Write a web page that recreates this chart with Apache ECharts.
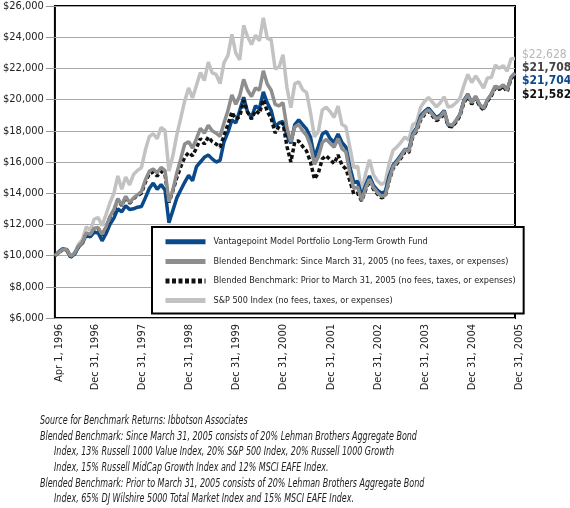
<!DOCTYPE html>
<html><head><meta charset="utf-8">
<script src="https://cdn.jsdelivr.net/npm/echarts@6/dist/echarts.min.js"></script>
<style>html,body{margin:0;padding:0;background:#fff}#c{width:570px;height:508px}</style>
</head><body><div id="c"></div>
<script>
const FONT = '"Liberation Sans Narrow","DejaVu Sans Condensed","Roboto Condensed",sans-serif';

// Monthly points: start value (Apr 1, 1996) then month-ends Apr 1996 .. Dec 2005
const seriesNames = [
  'Vantagepoint Model Portfolio Long-Term Growth Fund',
  'Blended Benchmark: Since March 31, 2005 (no fees, taxes, or expenses)',
  'Blended Benchmark: Prior to March 31, 2005 (no fees, taxes, or expenses)',
  'S&P 500 Index (no fees, taxes, or expenses)'
];

const fundValues = [
  10000,10250,10450,10350,9900,10100,10550,10800,11350,11200,
  11500,11450,10950,11400,12000,12400,13000,12800,13200,12950,13000,13100,
  13150,13700,14300,14650,14250,14550,14200,12100,12900,13700,14200,14700,
  15150,14800,15700,16000,16300,16450,16200,16000,16100,17300,17900,18700,
  18500,19300,20150,19200,18850,19600,19400,20500,19800,19300,18300,18500,
  18600,17700,17200,18400,18700,18400,18100,17600,16300,17000,17800,17950,
  17500,17250,17800,17250,16950,15700,14700,14750,13800,14500,15100,14500,
  14200,14000,14100,15100,15800,16100,16450,16800,16800,17800,18200,18950,
  19250,19450,19150,18850,19000,19300,18350,18300,18650,19050,19950,20350,
  19800,20200,19650,19400,19950,20350,20850,20700,20900,20650,21400,21704
];

const blendedSinceValues = [
  10000,10200,10400,10380,9950,10150,10600,10850,11450,11350,
  11750,11800,11350,11850,12500,12950,13650,13250,13800,13400,13700,13900,
  14100,14850,15400,15550,15300,15650,15450,13450,14200,15300,16200,17150,
  17300,16900,17500,18150,17850,18350,18000,17850,17650,18500,19300,20300,
  19700,20250,21300,20600,20200,20750,20600,21850,21000,20600,19700,19600,
  19800,18200,17300,18250,18400,18000,17700,17050,15850,16350,17250,17450,
  17200,16950,17500,16850,16650,15300,14300,14400,13550,14300,14900,14350,
  14050,13800,13850,14850,15700,16000,16350,16800,16700,17700,18100,18800,
  19150,19350,19050,18750,18900,19250,18400,18350,18650,19050,19900,20300,
  19800,20200,19700,19450,20000,20350,20850,20750,20950,20600,21450,21708
];

const blendedPriorValues = [
  10000,10200,10380,10370,9920,10120,10580,10820,11420,11330,
  11700,11750,11300,11800,12450,12900,13600,13200,13750,13350,13650,13850,
  14000,14700,15250,15350,15100,15400,15200,13400,14150,15000,15700,16300,
  16600,16400,16900,17500,17150,17600,17300,17150,16950,17700,18400,19200,
  18750,18900,19950,19200,18750,19300,19100,20000,19250,18800,17850,18300,
  18500,17000,16000,17300,17350,17000,16700,16000,14900,15300,16200,16400,
  16150,15900,16450,15800,15550,14800,13950,14000,13500,14200,14800,14250,
  13950,13700,13800,14800,15600,15900,16250,16650,16600,17600,18000,18700,
  19050,19250,18950,18650,18800,19150,18300,18250,18550,18950,19800,20200,
  19700,20100,19600,19350,19900,20250,20750,20650,20850,20500,21350,21582
];

const sp500Values = [
  10000,10149,10394,10431,9966,10169,10734,11029,11854,11614,
  12344,12433,11919,12632,13391,13990,15105,14256,15034,14535,15203,15462,
  15642,16765,17627,17811,17499,18212,18026,15418,16402,17743,18816,19904,
  20749,20106,20914,21737,21222,22408,21718,21612,21023,22367,22825,24177,
  22978,22545,24759,24028,23534,24129,23766,25243,23925,23838,21963,22078,
  22873,20790,19480,21006,21141,20639,20445,19161,17618,17961,19338,19510,
  19232,18857,19577,18398,18256,16956,15638,15735,14022,15256,16147,15193,
  14797,14566,14706,15919,16752,16965,17263,17595,17409,18389,18546,19513,
  19876,20146,19843,19536,19799,20181,19516,19586,19797,20101,20905,21612,
  21095,21522,21139,20743,21391,21417,22217,21997,22179,21815,22613,22628
];

// x tick labels and which month each belongs to
const tickMonths = ['1996-03','1996-12','1997-12','1998-12','1999-12','2000-12','2001-12','2002-12','2003-12','2004-12','2005-12'];
const tickLabels = ['Apr 1, 1996','Dec 31, 1996','Dec 31, 1997','Dec 31, 1998','Dec 31, 1999','Dec 31, 2000','Dec 31, 2001','Dec 31, 2002','Dec 31, 2003','Dec 31, 2004','Dec 31, 2005'];

const footnotes = [
  ['Source for Benchmark Returns: Ibbotson Associates', 0],
  ['Blended Benchmark: Since March 31, 2005 consists of 20% Lehman Brothers Aggregate Bond', 0],
  ['Index, 13% Russell 1000 Value Index, 20% S&P 500 Index, 20% Russell 1000 Growth', 1],
  ['Index, 15% Russell MidCap Growth Index and 12% MSCI EAFE Index.', 1],
  ['Blended Benchmark: Prior to March 31, 2005 consists of 20% Lehman Brothers Aggregate Bond', 0],
  ['Index, 65% DJ Wilshire 5000 Total Market Index and 15% MSCI EAFE Index.', 1]
];

// month categories
const months = [];
for (let y = 1996, m = 3; months.length < fundValues.length; ) {
  months.push(y + '-' + String(m).padStart(2, '0'));
  m++; if (m > 12) { m = 1; y++; }
}
const labelFor = {};
tickMonths.forEach((k, i) => labelFor[k] = tickLabels[i]);

const colors = ['#0b4a8a', '#8e8e8e', '#111111', '#c2c2c2'];
const endOffsets = [[0, 8], [0, -5], [0, 20], [0, -4]];
const endColors = ['#0b4a8a', '#444444', '#111111', '#b8b8b8'];
const dataSets = [fundValues, blendedSinceValues, blendedPriorValues, sp500Values];
const zs = [3, 5, 4, 2];

const chart = echarts.init(document.getElementById('c'), null, {renderer: 'canvas'});
chart.setOption({
  animation: false,
  backgroundColor: '#fff',
  textStyle: {fontFamily: FONT},
  grid: {left: 50, right: 55, top: 6, bottom: 190, show: true, borderColor: '#000', borderWidth: 2, backgroundColor: 'transparent', containLabel: false},
  legend: {
    orient: 'vertical', left: 152, top: 227,
    backgroundColor: '#fff', borderColor: '#000', borderWidth: 2,
    padding: [10, 8, 8, 11], itemGap: 10, itemWidth: 40, itemHeight: 12,
    itemStyle: {opacity: 0},
    lineStyle: {width: 5},
    textStyle: {fontFamily: FONT, fontSize: 9, color: '#222', padding: [0, 0, 0, 3]},
    data: seriesNames
  },
  xAxis: {
    type: 'category', data: months, boundaryGap: false,
    axisLine: {show: false}, axisTick: {show: false},
    splitLine: {show: false},
    axisLabel: {
      rotate: 90, margin: 6, fontFamily: FONT, fontSize: 11, color: '#222',
      verticalAlign: 'top', padding: [-1, 0, 0, 0],
      interval: (idx, val) => labelFor[val] !== undefined,
      formatter: (val) => labelFor[val] || ''
    }
  },
  yAxis: {
    type: 'value', min: 6000, max: 26000, interval: 2000,
    axisLine: {show: false},
    axisTick: {show: true, length: 9, lineStyle: {color: '#999', width: 1}},
    splitLine: {lineStyle: {color: '#a8a8a8', width: 1}},
    axisLabel: {
      margin: 11, fontFamily: FONT, fontSize: 11, color: '#222',
      formatter: (v) => '$' + v.toLocaleString('en-US')
    }
  },
  series: seriesNames.map((name, i) => ({
    name, type: 'line', data: dataSets[i], symbol: 'none', z: zs[i],
    lineStyle: i === 2
      ? {color: colors[i], width: 3.5, type: [4, 2.5]}
      : {color: colors[i], width: 3.5},
    itemStyle: {color: colors[i]},
    endLabel: {
      show: true, distance: 7, offset: endOffsets[i],
      fontFamily: FONT, fontSize: 12, fontWeight: i === 3 ? 'normal' : 'bold', color: endColors[i],
      formatter: (p) => '$' + p.value.toLocaleString('en-US')
    }
  })),
  graphic: footnotes.map((f, i) => ({
    type: 'text', x: 40 + f[1] * 14, y: 415 + i * 15.6, scaleX: 0.74,
    style: {text: f[0], font: 'italic 12px ' + FONT, fill: '#222'}
  }))
});
</script></body></html>
